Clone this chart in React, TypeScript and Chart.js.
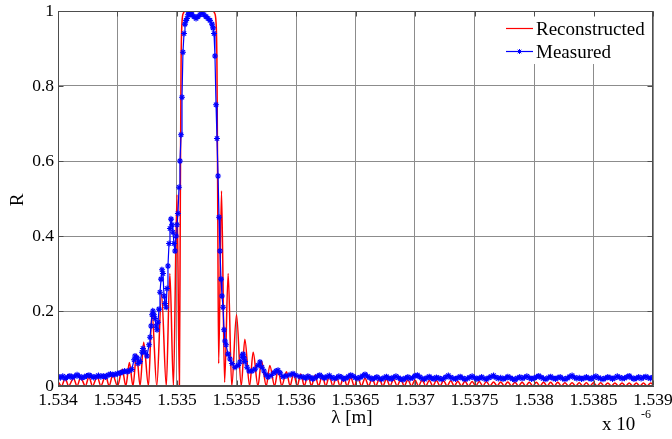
import React, { useEffect, useRef } from "react";
import { Chart, registerables } from "chart.js";

Chart.register(...registerables);

const FONT = "'Liberation Serif', 'Times New Roman', Times, serif";

const xTickValues = [1.534, 1.5345, 1.535, 1.5355, 1.536, 1.5365, 1.537, 1.5375, 1.538, 1.5385, 1.539];
const xTickLabels = ["1.534", "1.5345", "1.535", "1.5355", "1.536", "1.5365", "1.537", "1.5375", "1.538", "1.5385", "1.539"];
const yTickValues = [0, 0.2, 0.4, 0.6, 0.8, 1];
const yTickLabels = ["0", "0.2", "0.4", "0.6", "0.8", "1"];

const seriesLabels = ["Reconstructed", "Measured"];

// Reconstructed reflectance (red)
const reconLambda = [
  1.534, 1.53403, 1.53406, 1.53409, 1.53413, 1.53416, 1.53419, 1.53423, 1.53426, 1.53429,
  1.53433, 1.53436, 1.5344, 1.53443, 1.53446, 1.5345, 1.53454, 1.53457, 1.5346, 1.53463,
  1.53466, 1.53469, 1.53472, 1.53476, 1.53479, 1.53483, 1.53487, 1.53491, 1.53494, 1.53497,
  1.535, 1.53502, 1.535028, 1.535034, 1.535042, 1.535055, 1.53507, 1.5353, 1.535315, 1.535328,
  1.535336, 1.535342, 1.53535, 1.535374, 1.5354, 1.53543, 1.53546, 1.5355, 1.53554, 1.53557,
  1.53561, 1.53564, 1.53568, 1.53571, 1.53575, 1.53578, 1.53582, 1.53585, 1.53588, 1.53592,
  1.53595,
  1.53598, 1.53601, 1.53604, 1.53607, 1.5361, 1.53613, 1.53616, 1.53619, 1.53622, 1.53625,
  1.53628, 1.53631, 1.53634, 1.53637, 1.5364, 1.53643, 1.53646, 1.53649, 1.53652, 1.53655,
  1.53658, 1.53661, 1.53664, 1.53667, 1.5367, 1.53673, 1.53676, 1.53679, 1.53682, 1.53685,
  1.53688, 1.53691, 1.53694, 1.53697, 1.537, 1.53703, 1.53706, 1.53709, 1.53712, 1.53715,
  1.53718, 1.53721, 1.53724, 1.53727, 1.5373, 1.53733, 1.53736, 1.53739, 1.53742, 1.53745,
  1.53748, 1.53751, 1.53754, 1.53757, 1.5376, 1.53763, 1.53766, 1.53769, 1.53772, 1.53775,
  1.53778, 1.53781, 1.53784, 1.53787, 1.5379, 1.53793, 1.53796, 1.53799, 1.53802, 1.53805,
  1.53808, 1.53811, 1.53814, 1.53817, 1.5382, 1.53823, 1.53826, 1.53829, 1.53832, 1.53835,
  1.53838, 1.53841, 1.53844, 1.53847, 1.5385, 1.53853, 1.53856, 1.53859, 1.53862, 1.53865,
  1.53868, 1.53871, 1.53874, 1.53877, 1.5388, 1.53883, 1.53886, 1.53889, 1.53892, 1.53895,
  1.53898, 1.539,
];
const reconR = [
  0.012, 0, 0.02, 0, 0.021, 0, 0.022, 0, 0.024, 0,
  0.025, 0, 0.028, 0, 0.03, 0, 0.045, 0, 0.063, 0,
  0.085, 0, 0.117, 0, 0.197, 0, 0.245, 0, 0.3, 0,
  0.51, 0, 0.5, 0.85, 0.97, 0.995, 1, 1, 0.995, 0.97,
  0.85, 0.5, 0.06, 0.52, 0.01, 0.3, 0, 0.19, 0, 0.125,
  0, 0.09, 0, 0.067, 0, 0.055, 0, 0.045, 0, 0.038,
  0,
  0.034, 0, 0.032, 0, 0.03, 0, 0.029, 0, 0.028, 0,
  0.026, 0, 0.025, 0, 0.024, 0, 0.023, 0, 0.022, 0,
  0.021, 0, 0.02, 0, 0.019, 0, 0.019, 0, 0.018, 0,
  0.017, 0, 0.017, 0, 0.016, 0, 0.016, 0, 0.015, 0,
  0.015, 0, 0.014, 0, 0.014, 0, 0.013, 0, 0.013, 0,
  0.012, 0, 0.012, 0, 0.012, 0, 0.011, 0, 0.011, 0,
  0.011, 0, 0.01, 0, 0.01, 0, 0.01, 0, 0.01, 0,
  0.01, 0, 0.01, 0, 0.01, 0, 0.009, 0, 0.009, 0,
  0.009, 0, 0.009, 0, 0.009, 0, 0.009, 0, 0.008, 0,
  0.008, 0, 0.008, 0, 0.008, 0, 0.008, 0, 0.008, 0,
  0.008, 0.004,
];

// Measured reflectance (blue)
const measuredLambda = [
  1.534, 1.53402, 1.53404, 1.53406, 1.53408, 1.5341, 1.53412, 1.53414, 1.53416, 1.53418,
  1.5342, 1.53422, 1.53424, 1.53426, 1.53428, 1.5343, 1.53432, 1.53434, 1.53436, 1.53438,
  1.5344, 1.53442, 1.53444, 1.53446, 1.53448, 1.5345, 1.53452, 1.53454, 1.53456, 1.53458,
  1.5346, 1.53462,
  1.534639, 1.534647, 1.534664, 1.534672,
  1.534689, 1.534706, 1.534714, 1.534731, 1.534748, 1.534765, 1.534773, 1.534782, 1.53479, 1.534798,
  1.534807, 1.534815, 1.534824, 1.534832, 1.53484, 1.534849, 1.534857, 1.534866, 1.534874, 1.534882,
  1.534891, 1.534899, 1.534908, 1.534916, 1.534924, 1.534933, 1.534941, 1.53495, 1.534958, 1.534966,
  1.534975, 1.534983, 1.534992, 1.535, 1.535008, 1.535017, 1.535025, 1.535034, 1.535042, 1.53505,
  1.535059, 1.535067, 1.535076, 1.535084, 1.535092, 1.535101, 1.535109, 1.535118, 1.535126, 1.535143,
  1.53516, 1.535176, 1.535193, 1.53521, 1.535227, 1.535244, 1.535261, 1.535277, 1.535294, 1.535303,
  1.535311, 1.535319, 1.535328, 1.535336, 1.535345, 1.535353, 1.535361, 1.53537, 1.535378, 1.535387,
  1.535395, 1.535403, 1.535412, 1.535429, 1.535445, 1.535462, 1.535487, 1.535513, 1.535529, 1.535546,
  1.535555, 1.535563, 1.535571, 1.535588, 1.535605, 1.53563, 1.535655, 1.535681, 1.535697, 1.535714,
  1.535731, 1.535748, 1.535765, 1.53579, 1.535815, 1.535832, 1.535849, 1.535866, 1.535891, 1.535916,
  1.53595, 1.535975, 1.536, 1.536034,
  1.53606, 1.53608, 1.5361, 1.53612, 1.53614, 1.53616, 1.53618, 1.5362, 1.53622, 1.53624,
  1.53626, 1.53628, 1.5363, 1.53632, 1.53634, 1.53636, 1.53638, 1.5364, 1.53642, 1.53644,
  1.53646, 1.53648, 1.5365, 1.53652, 1.53654, 1.53656, 1.53658, 1.5366, 1.53662, 1.53664,
  1.53666, 1.53668, 1.5367, 1.53672, 1.53674, 1.53676, 1.53678, 1.5368, 1.53682, 1.53684,
  1.53686, 1.53688, 1.5369, 1.53692, 1.53694, 1.53696, 1.53698, 1.537, 1.53702, 1.53704,
  1.53706, 1.53708, 1.5371, 1.53712, 1.53714, 1.53716, 1.53718, 1.5372, 1.53722, 1.53724,
  1.53726, 1.53728, 1.5373, 1.53732, 1.53734, 1.53736, 1.53738, 1.5374, 1.53742, 1.53744,
  1.53746, 1.53748, 1.5375, 1.53752, 1.53754, 1.53756, 1.53758, 1.5376, 1.53762, 1.53764,
  1.53766, 1.53768, 1.5377, 1.53772, 1.53774, 1.53776, 1.53778, 1.5378, 1.53782, 1.53784,
  1.53786, 1.53788, 1.5379, 1.53792, 1.53794, 1.53796, 1.53798, 1.538, 1.53802, 1.53804,
  1.53806, 1.53808, 1.5381, 1.53812, 1.53814, 1.53816, 1.53818, 1.5382, 1.53822, 1.53824,
  1.53826, 1.53828, 1.5383, 1.53832, 1.53834, 1.53836, 1.53838, 1.5384, 1.53842, 1.53844,
  1.53846, 1.53848, 1.5385, 1.53852, 1.53854, 1.53856, 1.53858, 1.5386, 1.53862, 1.53864,
  1.53866, 1.53868, 1.5387, 1.53872, 1.53874, 1.53876, 1.53878, 1.5388, 1.53882, 1.53884,
  1.53886, 1.53888, 1.5389, 1.53892, 1.53894, 1.53896, 1.53898, 1.539,
];
const measuredR = [
  0.025, 0.022, 0.026, 0.021, 0.024, 0.027, 0.023, 0.026, 0.03, 0.026,
  0.022, 0.024, 0.027, 0.029, 0.026, 0.023, 0.025, 0.028, 0.025, 0.027,
  0.024, 0.029, 0.032, 0.03, 0.031, 0.033, 0.035, 0.037, 0.04, 0.038,
  0.041, 0.044,
  0.07, 0.08, 0.075, 0.06,
  0.065, 0.09, 0.1, 0.09, 0.08, 0.11, 0.13, 0.16, 0.19, 0.2,
  0.19, 0.18, 0.16, 0.15, 0.17, 0.205, 0.25, 0.285, 0.31, 0.3,
  0.24, 0.22, 0.21, 0.26, 0.32, 0.38, 0.42, 0.445, 0.43, 0.41,
  0.38, 0.36, 0.4, 0.43, 0.46, 0.53, 0.6, 0.67, 0.77, 0.89,
  0.94, 0.965, 0.975, 0.98, 0.99, 0.995, 0.99, 0.995, 0.99, 0.985,
  0.98, 0.985, 0.99, 0.995, 0.99, 0.985, 0.98, 0.975, 0.965, 0.955,
  0.94, 0.88, 0.75, 0.66, 0.56, 0.45, 0.36, 0.285, 0.24, 0.21,
  0.15, 0.12, 0.11, 0.085, 0.072, 0.06, 0.05, 0.055, 0.064, 0.08,
  0.085, 0.075, 0.065, 0.05, 0.04, 0.04, 0.045, 0.055, 0.064, 0.05,
  0.04, 0.03, 0.024, 0.028, 0.035, 0.04, 0.042, 0.035, 0.025, 0.027,
  0.03, 0.033, 0.028, 0.025,
  0.024, 0.021, 0.026, 0.023, 0.019, 0.022, 0.026, 0.029, 0.024, 0.021,
  0.025, 0.028, 0.023, 0.02, 0.022, 0.026, 0.024, 0.019, 0.021, 0.025,
  0.029, 0.026, 0.022, 0.02, 0.023, 0.027, 0.031, 0.026, 0.022, 0.019,
  0.021, 0.024, 0.02, 0.018, 0.022, 0.025, 0.021, 0.019, 0.023, 0.026,
  0.022, 0.019, 0.017, 0.021, 0.024, 0.02, 0.022, 0.027, 0.029, 0.024,
  0.02, 0.018, 0.022, 0.025, 0.021, 0.019, 0.023, 0.021, 0.018, 0.02,
  0.024, 0.028, 0.023, 0.02, 0.019, 0.022, 0.025, 0.021, 0.018, 0.02,
  0.023, 0.026, 0.022, 0.019, 0.021, 0.024, 0.02, 0.018, 0.022, 0.025,
  0.028, 0.023, 0.02, 0.022, 0.019, 0.021, 0.025, 0.022, 0.019, 0.017,
  0.021, 0.024, 0.02, 0.023, 0.026, 0.022, 0.019, 0.021, 0.024, 0.027,
  0.023, 0.02, 0.018, 0.022, 0.025, 0.021, 0.019, 0.022, 0.024, 0.02,
  0.018, 0.021, 0.025, 0.028, 0.023, 0.02, 0.022, 0.019, 0.021, 0.024,
  0.021, 0.019, 0.023, 0.026, 0.022, 0.02, 0.018, 0.021, 0.024, 0.022,
  0.019, 0.022, 0.026, 0.023, 0.02, 0.021, 0.024, 0.027, 0.022, 0.019,
  0.021, 0.024, 0.02, 0.023, 0.025, 0.022, 0.02, 0.023,
];

const RED = "#ff0000";
const BLUE = "#0000ff";
const GRID = "#8c8c8c";
const FRAME = "#4d4d4d";

function drawStar(ctx: CanvasRenderingContext2D, x: number, y: number, r: number) {
  ctx.beginPath();
  ctx.moveTo(x - r, y);
  ctx.lineTo(x + r, y);
  ctx.moveTo(x, y - r);
  ctx.lineTo(x, y + r);
  const d = r * Math.SQRT1_2;
  ctx.moveTo(x - d, y - d);
  ctx.lineTo(x + d, y + d);
  ctx.moveTo(x - d, y + d);
  ctx.lineTo(x + d, y - d);
  ctx.stroke();
}

const decorPlugin = {
  id: "decor",
  afterDraw(chart: any) {
    const { ctx, chartArea: ca, scales } = chart;
    ctx.save();
    // legend box (white, no border)
    const lx = Math.round(ca.left + (ca.right - ca.left) * 0.7) + 2;
    ctx.fillStyle = "#ffffff";
    ctx.fillRect(lx, ca.top + 1, ca.right - lx - 1, 52);

    // frame
    const L = Math.round(ca.left) + 0.5;
    const R = Math.round(ca.right) - 0.5;
    const T = Math.round(ca.top) + 0.5;
    const B = Math.round(ca.bottom) - 0.5;
    ctx.strokeStyle = FRAME;
    ctx.lineWidth = 1;
    ctx.strokeRect(L, T, R - L, B - T);
    // inward tick marks
    ctx.beginPath();
    for (const v of xTickValues) {
      const px = Math.round(scales.x.getPixelForValue(v)) + 0.5;
      ctx.moveTo(px, T);
      ctx.lineTo(px, T + 5);
      ctx.moveTo(px, B);
      ctx.lineTo(px, B - 5);
    }
    for (const v of yTickValues) {
      const py = Math.round(scales.y.getPixelForValue(v)) + 0.5;
      ctx.moveTo(L, py);
      ctx.lineTo(L + 5, py);
      ctx.moveTo(R, py);
      ctx.lineTo(R - 5, py);
    }
    ctx.stroke();

    // legend entries
    const ds = chart.data.datasets;
    const recon = ds.find((d: any) => d.label === seriesLabels[0]);
    const meas = ds.find((d: any) => d.label === seriesLabels[1]);
    const lineX0 = lx + 29;
    const lineX1 = lx + 56;
    ctx.lineWidth = 1.2;
    ctx.strokeStyle = recon.borderColor;
    ctx.beginPath();
    ctx.moveTo(lineX0, 28.5);
    ctx.lineTo(lineX1, 28.5);
    ctx.stroke();
    ctx.strokeStyle = meas.borderColor;
    ctx.beginPath();
    ctx.moveTo(lineX0, 51.5);
    ctx.lineTo(lineX1, 51.5);
    ctx.stroke();
    ctx.lineWidth = 1;
    drawStar(ctx, (lineX0 + lineX1) / 2, 51.5, 2.5);

    ctx.fillStyle = "#000";
    ctx.font = `19px ${FONT}`;
    ctx.textAlign = "left";
    ctx.textBaseline = "alphabetic";
    ctx.fillText(recon.label, lineX1 + 3, 35);
    ctx.fillText(meas.label, lineX1 + 3, 57.5);

    // axis titles
    ctx.font = `19px ${FONT}`;
    ctx.textAlign = "center";
    ctx.textBaseline = "middle";
    ctx.fillText("λ [m]", 352, 418);
    ctx.save();
    ctx.translate(18, 200);
    ctx.rotate(-Math.PI / 2);
    ctx.fillText("R", 0, 0);
    ctx.restore();
    // exponent
    ctx.textAlign = "left";
    ctx.textBaseline = "alphabetic";
    ctx.font = `19px ${FONT}`;
    ctx.fillText("x 10", 602, 430);
    ctx.font = `12px ${FONT}`;
    ctx.fillText("-6", 641, 418);
    ctx.restore();
  },
};

export default function App() {
  const ref = useRef<HTMLCanvasElement>(null);
  useEffect(() => {
    document.body.style.margin = "0";
    const canvas = ref.current!;
    const recon = reconLambda.map((x, i) => ({ x, y: reconR[i] }));
    const measured = measuredLambda.map((x, i) => ({ x, y: measuredR[i] }));
    const chart = new Chart(canvas, {
      type: "line",
      data: {
        datasets: [
          {
            label: seriesLabels[1],
            data: measured,
            borderColor: BLUE,
            borderWidth: 1.2,
            pointStyle: "star",
            pointRadius: 3,
            pointBorderWidth: 1.1,
            pointBorderColor: BLUE,
            pointBackgroundColor: BLUE,
            tension: 0,
            order: 0,
          },
          {
            label: seriesLabels[0],
            data: recon,
            borderColor: RED,
            borderWidth: 1.5,
            pointRadius: 0,
            cubicInterpolationMode: "monotone",
            order: 1,
          },
        ],
      },
      options: {
        animation: false,
        responsive: false,
        events: [],
        layout: { padding: { left: 0, top: 11, right: 19, bottom: 0 } },
        plugins: { legend: { display: false }, tooltip: { enabled: false } },
        scales: {
          x: {
            type: "linear",
            min: 1.534,
            max: 1.539,
            afterBuildTicks: (s: any) => {
              s.ticks = xTickValues.map((v) => ({ value: v }));
            },
            afterFit: (s: any) => {
              s.height = 53;
              s.paddingLeft = 0;
              s.paddingRight = 0;
            },
            ticks: {
              autoSkip: false,
              maxRotation: 0,
              padding: 4,
              color: "#000",
              font: { family: FONT, size: 17.5 },
              callback: (_v: any, i: number) => xTickLabels[i],
            },
            grid: { color: GRID, lineWidth: 1, drawTicks: false },
            border: { color: FRAME },
          },
          y: {
            type: "linear",
            min: 0,
            max: 1,
            afterBuildTicks: (s: any) => {
              s.ticks = yTickValues.map((v) => ({ value: v }));
            },
            afterFit: (s: any) => {
              s.width = 58;
              s.paddingTop = 0;
              s.paddingBottom = 0;
            },
            ticks: {
              padding: 4,
              color: "#000",
              font: { family: FONT, size: 17.5 },
              callback: (_v: any, i: number) => yTickLabels[i],
            },
            grid: { color: GRID, lineWidth: 1, drawTicks: false },
            border: { color: FRAME },
          },
        },
      },
      plugins: [decorPlugin],
    } as any);
    return () => chart.destroy();
  }, []);
  return (
    <div style={{ position: "absolute", left: 0, top: 0, width: 672, height: 439, background: "#fff" }}>
      <canvas ref={ref} width={672} height={439} style={{ width: 672, height: 439, display: "block" }} />
    </div>
  );
}
